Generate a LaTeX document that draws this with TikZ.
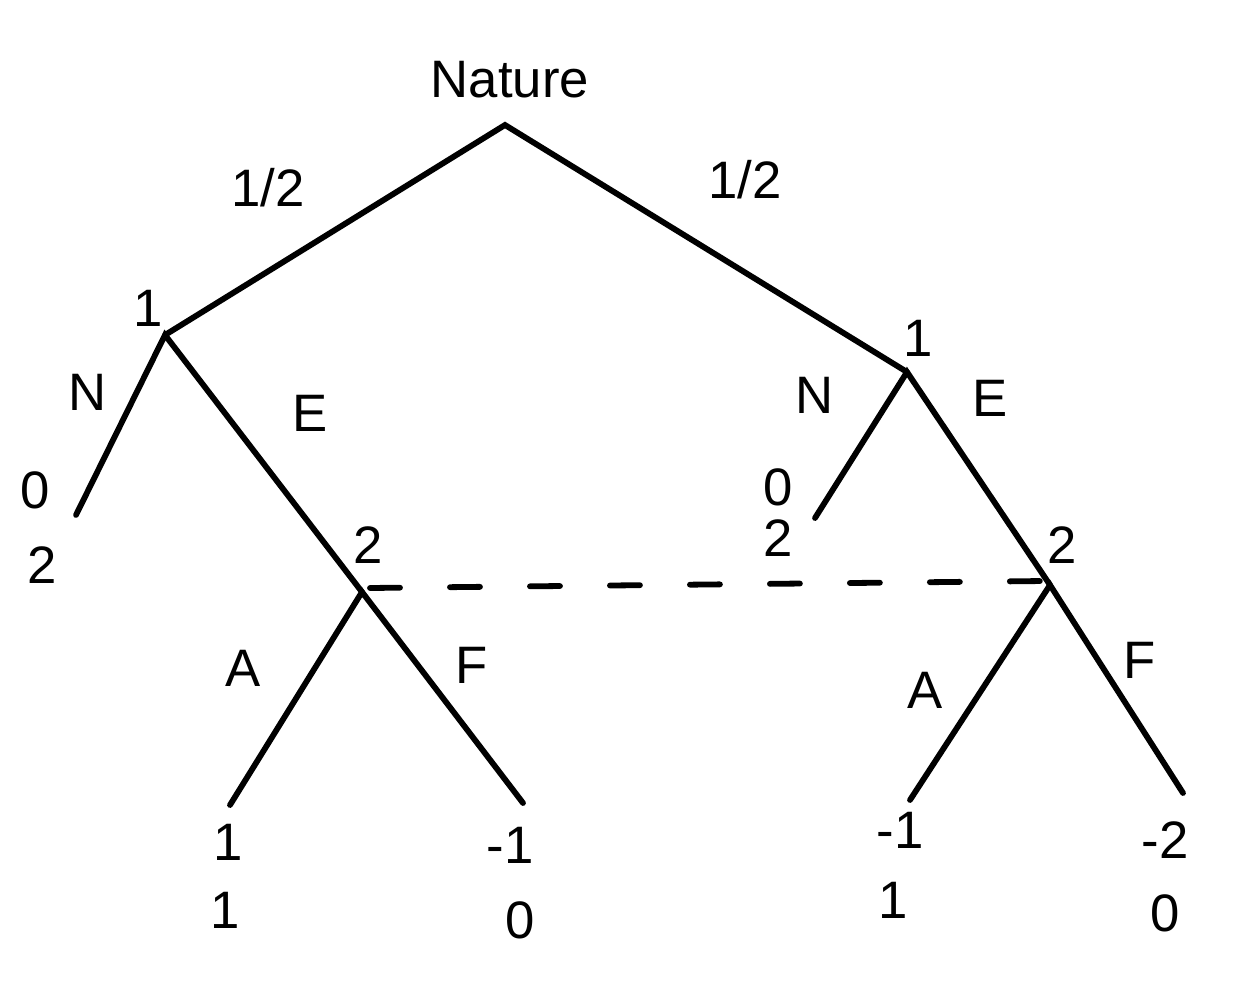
\documentclass[tikz,border=0pt]{standalone}
\usepackage{fontspec}
\setmainfont{Liberation Sans}
\usetikzlibrary{positioning}

\begin{document}
\begin{tikzpicture}[x=0.02cm,y=-0.02cm,
    edge/.style={line width=3.3pt,line cap=round},
    lbl/.style={font=\fontsize{30}{34}\selectfont,inner sep=0pt}]
  \useasboundingbox (0,0) rectangle (1250,999);
  % Vertices
  \coordinate (root) at (505,125);
  \coordinate (p1l) at (165,335);
  \coordinate (p1r) at (907,372);
  \coordinate (p2l) at (362,592);
  \coordinate (p2r) at (1050,585);
  \coordinate (nl) at (76,515);
  \coordinate (nr) at (815,518);
  \coordinate (al) at (230,805);
  \coordinate (fl) at (523,803);
  \coordinate (ar) at (910,800);
  \coordinate (fr) at (1183,793);

  % Branches
  \draw[edge] (p1l) -- (root) -- (p1r);
  \draw[edge] (nl) -- (p1l) -- (p2l);
  \draw[edge] (nr) -- (p1r) -- (p2r);
  \draw[edge] (al) -- (p2l) -- (fl);
  \draw[edge] (ar) -- (p2r) -- (fr);

  % Information set
  \coordinate (isl) at (370,588);
  \coordinate (isr) at (1045,581);
  \draw[edge,dash pattern=on 0.6cm off 1cm] (isl) -- (isr);

  % Players and chances
  \node[lbl] (nat) at (510,80) {Nature};
  \node[lbl] (hl) at (268,188) {1/2};
  \node[lbl] (hr) at (745,180) {1/2};
  \node[lbl] (pl1) at (148,308) {1};
  \node[lbl] (pr1) at (918,338) {1};
  \node[lbl] (pl2) at (368,545) {2};
  \node[lbl] (pr2) at (1062,545) {2};

  % Actions
  \node[lbl] (nll) at (88,392) {N};
  \node[lbl] (ell) at (310,413) {E};
  \node[lbl] (nrl) at (815,395) {N};
  \node[lbl] (erl) at (990,398) {E};
  \node[lbl] (all) at (243,668) {A};
  \node[lbl] (fll) at (472,665) {F};
  \node[lbl] (arl) at (925,690) {A};
  \node[lbl] (frl) at (1140,660) {F};

  % Payoffs
  \node[lbl] (u1) at (35,490) {0};
  \node[lbl] (v1) at (42,565) {2};
  \node[lbl] (u2) at (778,487) {0};
  \node[lbl] (v2) at (778,538) {2};
  \node[lbl] (u3) at (228,842) {1};
  \node[lbl] (v3) at (225,910) {1};
  \node[lbl] (u4) at (510,845) {-1};
  \node[lbl] (v4) at (520,920) {0};
  \node[lbl] (u5) at (900,830) {-1};
  \node[lbl] (v5) at (893,900) {1};
  \node[lbl] (u6) at (1165,840) {-2};
  \node[lbl] (v6) at (1165,913) {0};
\end{tikzpicture}
\end{document}
